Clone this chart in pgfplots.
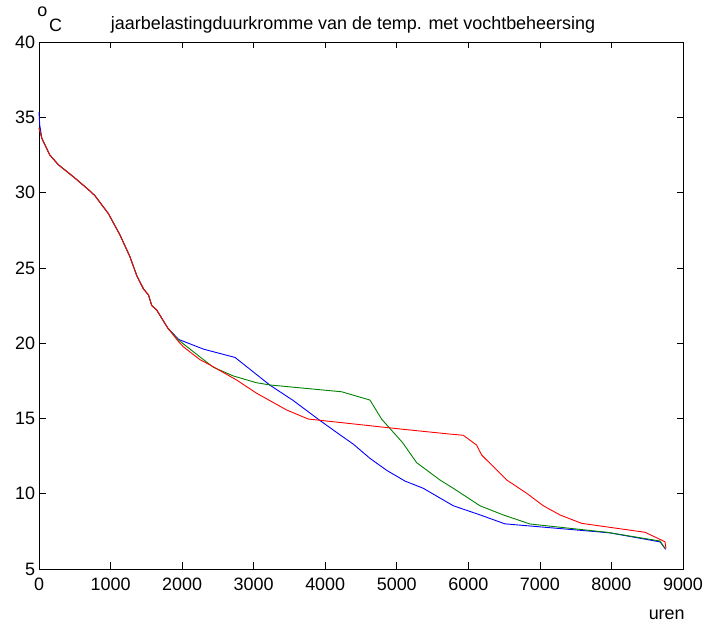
\documentclass[border=0pt]{standalone}
\usepackage{pgfplots}
\pgfplotsset{compat=1.18}
\usepackage{fontspec}
\setmainfont{Liberation Sans}
\definecolor{mblue}{RGB}{0,0,255}
\definecolor{mgreen}{RGB}{0,128,0}
\definecolor{mred}{RGB}{255,0,0}
\begin{document}
\begin{tikzpicture}
\path[use as bounding box] (-39bp,-54bp) rectangle (667bp,569bp);
\begin{axis}[
  at={(0,0)}, anchor=south west,
  scale only axis, width=644bp, height=527bp,
  xmin=0, xmax=9000, ymin=5, ymax=40,
  xtick={0,1000,...,9000}, ytick={5,10,...,40},
  scaled x ticks=false,
  /pgf/number format/set thousands separator={},
  /pgf/number format/assume math mode=true,
  tick align=inside, xtick pos=both, ytick pos=both,
  major tick length=6.5bp,
  minor tick num=0,
  tick style={black, line width=0.7bp},
  axis line style={black, line width=0.8bp},
  ticklabel style={font=\fontsize{18}{18}\selectfont},
  xticklabel style={yshift=-5bp},
  yticklabel style={xshift=-0.5bp},
  clip=false,
]
\addplot[mblue, line width=0.9bp] coordinates {
(0,35.35) (10,34.5) (40,33.6) (150,32.5) (270,31.85) (480,31.05) (690,30.2) (780,29.8)
(970,28.6) (1130,27.2) (1270,25.75) (1365,24.5) (1460,23.6) (1530,23.2) (1575,22.5)
(1645,22.2) (1800,21.0) (1950,20.25) (2300,19.6) (2740,19.05) (3230,17.2) (3550,16.2)
(3930,14.85) (4210,13.9) (4390,13.3) (4625,12.35) (4860,11.55) (5115,10.84) (5370,10.36)
(5790,9.2) (6160,8.6) (6510,8.0) (7980,7.4) (8680,6.8) (8760,6.3)
};
\addplot[mgreen, line width=0.9bp] coordinates {
(0,34.3) (40,33.6) (150,32.5) (270,31.85) (480,31.05) (690,30.2) (780,29.8)
(970,28.6) (1130,27.2) (1270,25.75) (1365,24.5) (1460,23.6) (1530,23.2) (1575,22.5)
(1645,22.2) (1800,21.0) (1950,20.2) (2300,18.9) (2436,18.4) (2716,17.82) (3040,17.37)
(3230,17.22) (4230,16.77) (4625,16.22) (4790,14.94) (5080,13.4) (5278,12.06) (5604,10.91)
(5790,10.36) (6163,9.2) (6488,8.59) (6861,7.99) (7933,7.44) (8678,6.86) (8748,6.37)
};
\addplot[mred, line width=0.9bp] coordinates {
(0,34.3) (40,33.6) (150,32.5) (270,31.85) (480,31.05) (690,30.2) (780,29.8)
(970,28.6) (1130,27.2) (1270,25.75) (1365,24.5) (1460,23.6) (1530,23.2) (1575,22.5)
(1645,22.2) (1800,21.0) (1950,20.1) (2017,19.76) (2250,18.9) (2390,18.55) (2762,17.55)
(3042,16.67) (3461,15.56) (3764,14.96) (5045,14.30) (5743,13.96) (5930,13.88) (6116,13.23)
(6186,12.57) (6536,10.91) (6815,10.03) (7048,9.20) (7281,8.59) (7584,8.03) (8469,7.44)
(8748,6.81) (8762,6.37)
};
\node[anchor=base, inner sep=0pt, font=\fontsize{18}{18}\selectfont] at (rel axis cs:0.4876,1.0228) {jaarbelastingduurkromme van de temp. met vochtbeheersing};
\node[anchor=base, inner sep=0pt, font=\fontsize{18}{18}\selectfont] at (rel axis cs:0.0054,1.048) {o};
\node[anchor=base, inner sep=0pt, font=\fontsize{18}{18}\selectfont] at (rel axis cs:0.0256,1.0196) {C};
\node[anchor=base, inner sep=0pt, font=\fontsize{18}{18}\selectfont] at (rel axis cs:0.9747,-0.0949) {uren};
\end{axis}
\end{tikzpicture}
\end{document}
